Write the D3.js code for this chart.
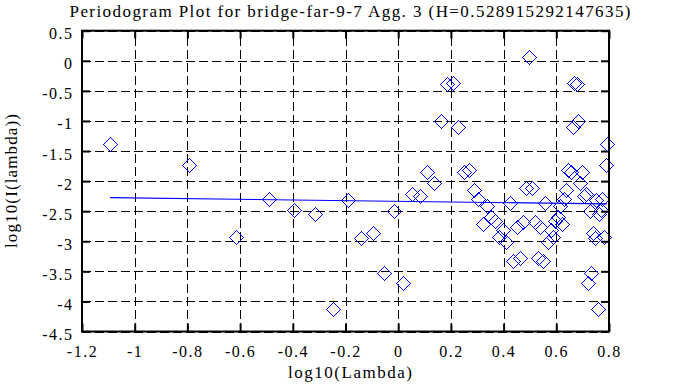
<!DOCTYPE html>
<html>
<head>
<meta charset="utf-8">
<script src="https://cdn.jsdelivr.net/npm/d3@7"></script>
<style>
  html, body { margin: 0; padding: 0; background: #fff; }
  svg { display: block; }
</style>
</head>
<body>
<svg id="chart" width="673" height="387"></svg>
<script>
// ---- data ----
const titleText = "Periodogram Plot for bridge-far-9-7 Agg. 3 (H=0.528915292147635)";
const xTitle = "log10(Lambda)";
const yTitle = "log10(I(lambda))";

const xTicks = [-1.2, -1, -0.8, -0.6, -0.4, -0.2, 0, 0.2, 0.4, 0.6, 0.8];
const xTickLabels = ["-1.2", "-1", "-0.8", "-0.6", "-0.4", "-0.2", "0", "0.2", "0.4", "0.6", "0.8"];
const yTicks = [0.5, 0, -0.5, -1, -1.5, -2, -2.5, -3, -3.5, -4, -4.5];
const yTickLabels = ["0.5", "0", "-0.5", "-1", "-1.5", "-2", "-2.5", "-3", "-3.5", "-4", "-4.5"];

// log10(lambda) of each periodogram point
const logLambda = [-1.094, -0.793, -0.617, -0.492, -0.395, -0.316, -0.249, -0.191, -0.140, -0.094,
  -0.053, -0.015, 0.020, 0.052, 0.082, 0.110, 0.137, 0.161, 0.185, 0.207,
  0.228, 0.248, 0.268, 0.286, 0.304, 0.321, 0.337, 0.353, 0.368, 0.383,
  0.397, 0.411, 0.425, 0.437, 0.450, 0.462, 0.474, 0.486, 0.497, 0.508,
  0.519, 0.529, 0.539, 0.549, 0.559, 0.569, 0.578, 0.587, 0.596, 0.605,
  0.614, 0.622, 0.630, 0.638, 0.646, 0.654, 0.662, 0.669, 0.677, 0.684,
  0.691, 0.698, 0.705, 0.712, 0.719, 0.726, 0.732, 0.739, 0.745, 0.751,
  0.757, 0.763, 0.769, 0.775, 0.781, 0.787, 0.792];
// log10(I(lambda)) of each periodogram point
const logPower = [-1.39, -1.74, -2.93, -2.29, -2.48, -2.54, -4.13, -2.32, -2.95, -2.86,
  -3.53, -2.49, -3.69, -2.22, -2.24, -1.855, -2.03, -1.00, -0.38, -0.37,
  -1.10, -1.85, -1.81, -2.14, -2.29, -2.72, -2.42, -2.60, -2.655, -2.93,
  -2.82, -3.02, -2.36, -3.32, -2.77, -3.28, -2.68, -2.12, 0.07, -2.12,
  -2.68, -3.28, -2.77, -3.32, -2.36, -3.02, -2.82, -2.93, -2.655, -2.60,
  -2.42, -2.72, -2.29, -2.14, -1.81, -1.85, -1.10, -0.37, -0.38, -1.00,
  -2.03, -1.855, -2.24, -2.22, -3.69, -2.49, -3.53, -2.86, -2.95, -2.32,
  -4.13, -2.54, -2.48, -2.29, -2.93, -1.74, -1.39];

// fitted regression line end points
const fitX = [-1.094, 0.792];
const fitY = [-2.275, -2.38];

// ---- layout ----
const L = 82, R = 609, T = 30.7, B = 331.5;
const FONT = "'Liberation Serif'";
const svg = d3.select("#chart");

const x = d3.scaleLinear().domain([-1.2, 0.8]).range([L, R]);
const y = d3.scaleLinear().domain([-4.5, 0.5]).range([B, T]);

// grid
const grid = svg.append("g").attr("class", "grid");
grid.append("g")
  .attr("transform", `translate(0,${B})`)
  .call(d3.axisBottom(x).tickValues(xTicks).tickSize(-(B - T)).tickFormat(""))
  .call(g => g.select(".domain").remove());
grid.append("g")
  .attr("transform", `translate(${L},0)`)
  .call(d3.axisLeft(y).tickValues(yTicks).tickSize(-(R - L)).tickFormat(""))
  .call(g => g.select(".domain").remove());
grid.selectAll("line")
  .attr("stroke", "#000").attr("stroke-width", 1)
  .attr("stroke-dasharray", "9,4")
  .attr("shape-rendering", "crispEdges");

// points
const diamond = "M0,-7L7,0L0,7L-7,0Z";
svg.append("g").selectAll("path")
  .data(logLambda.map((d, i) => [d, logPower[i]]))
  .join("path")
  .attr("d", diamond)
  .attr("transform", d => `translate(${Math.round(x(d[0])) + 0.5},${Math.round(y(d[1])) + 0.5})`)
  .attr("fill", "none")
  .attr("stroke", "#0000ff")
  .attr("stroke-width", 1)
  .attr("shape-rendering", "crispEdges");

// fit line
svg.append("path")
  .datum(fitX.map((d, i) => [d, fitY[i]]))
  .attr("d", d3.line().x(d => x(d[0])).y(d => y(d[1])))
  .attr("fill", "none")
  .attr("stroke", "#0000ff")
  .attr("stroke-width", 1.2);

// axes with inward ticks on all four sides
const tickStyle = g => {
  g.attr("font-family", null).attr("font-size", null);
  g.select(".domain").remove();
  g.selectAll(".tick line").attr("stroke", "#000").attr("stroke-width", 2);
};
const xAxisB = svg.append("g")
  .attr("transform", `translate(0,${B})`)
  .call(d3.axisBottom(x).tickValues(xTicks).tickSize(-8).tickFormat((d, i) => xTickLabels[i]))
  .call(tickStyle);
xAxisB.selectAll(".tick text")
  .attr("y", 25.5).attr("dy", null)
  .attr("fill", "#000")
  .style("font-family", FONT).style("font-size", "16px").style("letter-spacing", "1.5px");

svg.append("g")
  .attr("transform", `translate(0,${T})`)
  .call(d3.axisTop(x).tickValues(xTicks).tickSize(-8).tickFormat(""))
  .call(tickStyle);

const yAxisL = svg.append("g")
  .attr("transform", `translate(${L},0)`)
  .call(d3.axisLeft(y).tickValues(yTicks).tickSize(-8).tickFormat((d, i) => yTickLabels[i]))
  .call(tickStyle);
yAxisL.selectAll(".tick text")
  .attr("x", -8.5).attr("dy", 8).attr("text-anchor", "end")
  .attr("fill", "#000")
  .style("font-family", FONT).style("font-size", "16px").style("letter-spacing", "1.5px");

svg.append("g")
  .attr("transform", `translate(${R},0)`)
  .call(d3.axisRight(y).tickValues(yTicks).tickSize(-8).tickFormat(""))
  .call(tickStyle);

// border
svg.append("rect")
  .attr("x", L).attr("y", T).attr("width", R - L).attr("height", B - T)
  .attr("fill", "none").attr("stroke", "#000").attr("stroke-width", 2);

// titles
svg.append("text")
  .attr("x", 350).attr("y", 16.5)
  .attr("text-anchor", "middle")
  .style("font-family", FONT).style("font-size", "17px")
  .attr("textLength", 561).attr("lengthAdjust", "spacing")
  .text(titleText);

svg.append("text")
  .attr("x", 350).attr("y", 378)
  .attr("text-anchor", "middle")
  .style("font-family", FONT).style("font-size", "17px")
  .attr("textLength", 124).attr("lengthAdjust", "spacing")
  .text(xTitle);

svg.append("text")
  .attr("transform", "translate(17,181) rotate(-90)")
  .attr("text-anchor", "middle")
  .style("font-family", FONT).style("font-size", "17px")
  .attr("textLength", 134).attr("lengthAdjust", "spacing")
  .text(yTitle);
</script>
</body>
</html>
